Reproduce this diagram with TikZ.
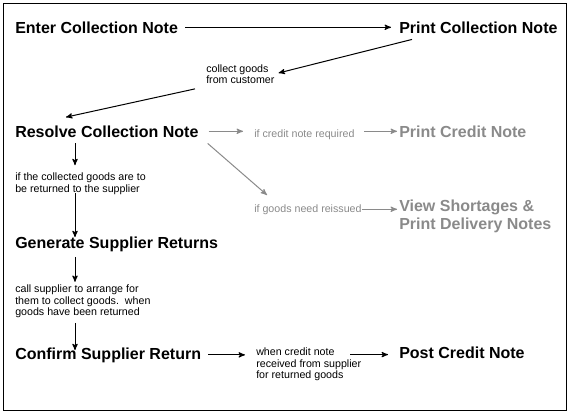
\documentclass[tikz,border=0pt]{standalone}
\usepackage{fontspec}
\setmainfont{Liberation Sans}
\usepackage{tikz}
\usetikzlibrary{arrows}
\definecolor{optgray}{HTML}{8A8A8A}

\begin{document}
\begin{tikzpicture}[>=stealth',x=0.75pt,y=-0.75pt,
  task/.style={anchor=base west,inner sep=0pt,font=\fontsize{12}{13.2}\selectfont\bfseries},
  note/.style={anchor=base west,inner sep=0pt,align=left,font=\fontsize{8}{8.6}\selectfont},
  flow/.style={->,line width=0.75pt},
  optional/.style={flow,draw=optgray}]
\useasboundingbox (0,0) rectangle (571,415);
\draw[line width=0.75pt] (3,3) rectangle (566,410.5);

% tasks (multi-line nodes sit on their last line)
\node[task] (enter) at (15,33) {Enter Collection Note};
\node[task] (printcol) at (399,33) {Print Collection Note};
\node[task] (resolve) at (15,137) {Resolve Collection Note};
\node[task,text=optgray] (printcredit) at (399,137) {Print Credit Note};
\node[task,text=optgray,align=left] (view) at (399,229.5) {View Shortages \&\\Print Delivery Notes};
\node[task] (gen) at (15,248) {Generate Supplier Returns};
\node[task] (confirm) at (15,359) {Confirm Supplier Return};
\node[task] (post) at (399,358) {Post Credit Note};

% conditions
\node[note] (collect) at (206,83.5) {collect goods\\from customer};
\node[note,text=optgray] (credit) at (254,137) {if credit note required};
\node[note,text=optgray] (reissue) at (254,212) {if goods need reissued};
\node[note] (returned) at (15,192) {if the collected goods are to\\be returned to the supplier};
\node[note] (call) at (15,315.5) {call supplier to arrange for\\them to collect goods.~~when\\goods have been returned};
\node[note] (when) at (256,378.5) {when credit note\\received from supplier\\for returned goods};

% main flow
\draw[flow,shorten <=5.25pt,shorten >=6pt] (enter.east) -- (printcol.west);
\draw[flow,shorten >=3pt] ([xshift=9.75pt,yshift=-4.5pt]printcol.south west) -- (collect.east);
\draw[flow] ([xshift=-8.25pt,yshift=-3.75pt]collect.south west) -- ([xshift=38.25pt,yshift=6pt]resolve.north west);
\draw[flow] ([xshift=45pt,yshift=-4.5pt]resolve.south west) -- ([xshift=45pt,yshift=5.5pt]returned.north west);
\draw[flow] ([xshift=45pt,yshift=1pt]returned.south west) -- ([xshift=45pt,yshift=-0.75pt]gen.north west);
\draw[flow] ([xshift=45pt,yshift=-4pt]gen.south west) -- ([xshift=45pt,yshift=2pt]call.north west);
\draw[flow] ([xshift=45pt,yshift=-3.75pt]call.south west) -- ([xshift=45pt,yshift=-2.25pt]confirm.north west);
\draw[flow,shorten <=5.25pt,shorten >=8.25pt] (confirm.east) -- (confirm.east -| when.west);
\draw[flow,shorten >=8.25pt] ([xshift=-8.25pt,yshift=-5.25pt]when.north east) -- ([yshift=-5.25pt]when.north east -| post.west);

% optional branches
\draw[optional,shorten <=7.5pt,shorten >=8.25pt] (resolve.east) -- (resolve.east -| credit.west);
\draw[optional,shorten <=7pt,shorten >=1.5pt] (credit.east |- printcredit.west) -- (printcredit.west);
\draw[optional] ([xshift=6.75pt,yshift=-4.5pt]resolve.south east) -- ([xshift=9.75pt,yshift=6.75pt]reissue.north west);
\draw[optional,shorten >=1.5pt] (reissue.east) -- (reissue.east -| view.west);
\end{tikzpicture}
\end{document}
